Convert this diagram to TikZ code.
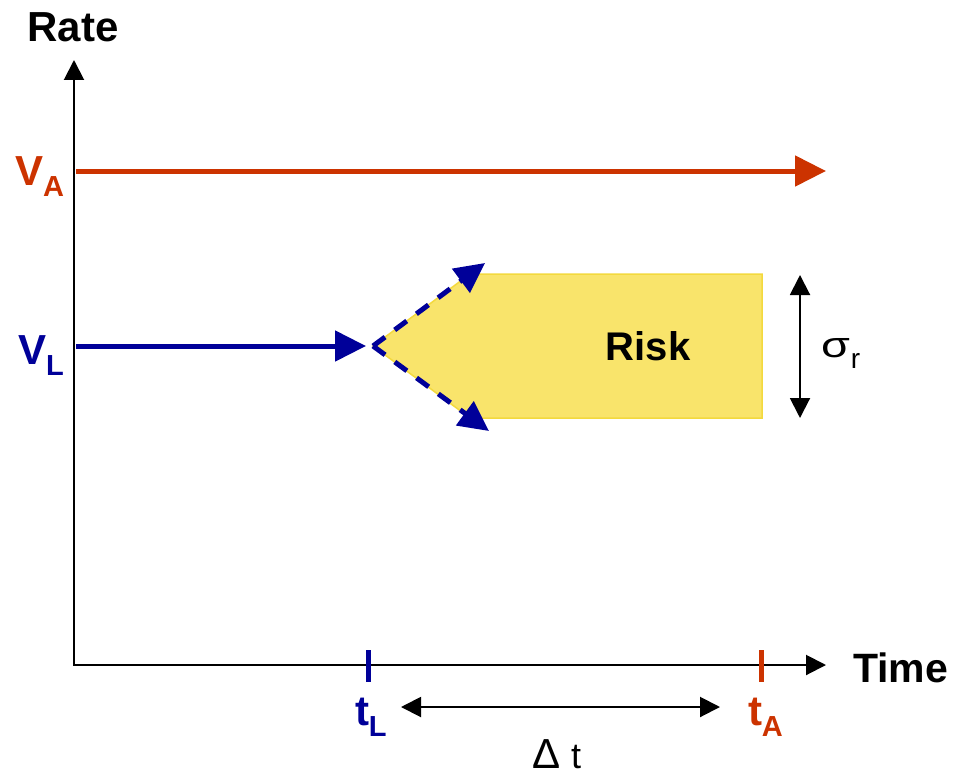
\documentclass[tikz,border=0pt]{standalone}
\usepackage{fontspec}
\setmainfont{Liberation Sans}
\usetikzlibrary{arrows.meta}
\definecolor{rred}{HTML}{CC3300}
\definecolor{bblue}{HTML}{000099}
\definecolor{yfill}{HTML}{F9E46B}
\definecolor{yedge}{HTML}{F3D93E}
\newcommand{\bigf}{\fontsize{42}{48}\selectfont}
\newcommand{\subf}{\fontsize{29}{32}\selectfont}
\newcommand{\lbl}[2]{{\bigf\bfseries #1}\raisebox{-11pt}{\subf\bfseries #2}}
\begin{document}
\begin{tikzpicture}[x=1pt,y=-1pt,
  axis/.style={line width=2pt,black},
  bigtip/.style={-{Triangle[length=31pt,width=30pt]}},
  smalltip/.style={{Triangle[length=20pt,width=20pt]}-{Triangle[length=20pt,width=20pt]}},
  txt/.style={inner sep=0pt,outer sep=0pt},
  tick/.style={line width=5pt}]
\useasboundingbox (0,0) rectangle (957,773);
% axes
\coordinate (O) at (74,665);
\coordinate (ytip) at (74,60);
\coordinate (xtip) at (826,665);
\draw[axis,smalltip] (ytip) -- (O) -- (xtip);
\node[txt,anchor=base] (rate) at (73,42) {\bigf\bfseries Rate};
\node[txt,anchor=base west] (time) at (853,682) {\fontsize{41}{48}\selectfont\bfseries Time};
% risk region
\coordinate (split) at (373,346);
\fill[yfill,draw=yedge,line width=1.5pt] (split) -- (470,274) -- (762,274) -- (762,418) -- (470,418) -- cycle;
\node[txt,anchor=base] (risk) at (648,360) {\fontsize{40}{48}\selectfont\bfseries Risk};
% V_A line
\coordinate (vaS) at (76,171);
\coordinate (vaE) at (826,171);
\draw[rred,line width=5pt,bigtip] (vaS) -- (vaE);
\node[txt,anchor=base west,text=rred] (va) at (15,185) {\lbl{V}{A}};
% V_L line
\coordinate (vlS) at (76,346);
\coordinate (vlE) at (366,346);
\draw[bblue,line width=5pt,bigtip] (vlS) -- (vlE);
\node[txt,anchor=base west,text=bblue] (vl) at (18,364) {\lbl{V}{L}};
% dashed branches
\coordinate (up) at (485,263);
\coordinate (dn) at (489,431);
\draw[bblue,line width=5pt,dash pattern=on 15pt off 12pt,-{Triangle[length=30pt,width=29pt]}] (split) -- (up);
\draw[bblue,line width=5pt,dash pattern=on 15pt off 12pt,-{Triangle[length=30pt,width=29pt]}] (split) -- (dn);
% sigma arrow
\coordinate (sT) at (800,275);
\coordinate (sB) at (800,418);
\draw[line width=2pt,smalltip] (sT) -- (sB);
\node[txt,anchor=base west] (sig) at (821,357) {\scalebox{1.3}[1]{\fontsize{36}{40}\selectfont σ}\kern1pt\raisebox{-11pt}{\fontsize{28}{32}\selectfont r}};
% ticks
\coordinate (tLa) at (368,650);
\coordinate (tLb) at (368,682);
\coordinate (tAa) at (761,650);
\coordinate (tAb) at (761,682);
\draw[tick,bblue] (tLa) -- (tLb);
\draw[tick,rred] (tAa) -- (tAb);
\node[txt,anchor=base west,text=bblue] (tl) at (355,725) {\lbl{t}{L}};
\node[txt,anchor=base west,text=rred] (ta) at (748,725) {\lbl{t}{A}};
% delta t
\coordinate (dL) at (401,707);
\coordinate (dR) at (720,707);
\draw[line width=2pt,smalltip] (dL) -- (dR);
\node[txt,anchor=base west] (dt) at (532,768) {{\fontsize{42}{44}\selectfont Δ}\kern11pt{\fontsize{36}{40}\selectfont t}};
\end{tikzpicture}
\end{document}
